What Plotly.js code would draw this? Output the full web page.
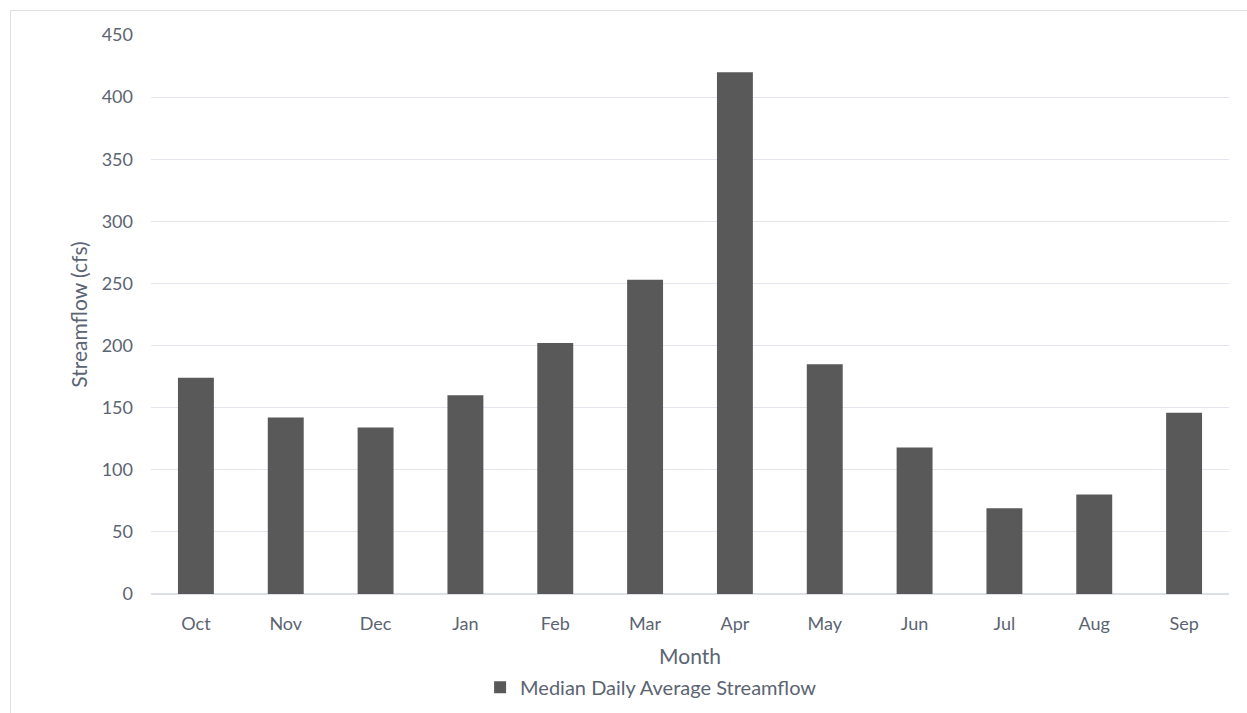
<!DOCTYPE html>
<html>
<head>
<meta charset="utf-8">
<script src="https://cdn.plot.ly/plotly-3.0.1.min.js"></script>
<style>
  html, body { margin: 0; padding: 0; background: #ffffff; overflow: hidden; }
  #chart { width: 1247px; height: 713px; }
  #frame { position: absolute; left: 10px; top: 10px; right: 0; bottom: 0;
           border-left: 1px solid #dde0e6; border-top: 1px solid #dde0e6; pointer-events: none; }
</style>
</head>
<body>
<div id="chart"></div>
<div id="frame"></div>
<script>
const months = ["Oct", "Nov", "Dec", "Jan", "Feb", "Mar", "Apr", "May", "Jun", "Jul", "Aug", "Sep"];
const medianFlow = [174, 142, 134, 160, 202, 253, 420, 185, 118, 69, 80, 146];
const yTicks = [0, 50, 100, 150, 200, 250, 300, 350, 400, 450];
const seriesName = "Median Daily Average Streamflow";

const textColor = "#5b6472";
const fontFamily = "Lato, 'Open Sans', sans-serif";

const trace = {
  type: "bar",
  x: months,
  y: medianFlow,
  name: seriesName,
  marker: { color: "#595959" },
  showlegend: true,
  hoverinfo: "x+y"
};

const layout = {
  width: 1247,
  height: 713,
  margin: { l: 151, r: 18, t: 34.5, b: 118.5 },
  paper_bgcolor: "#ffffff",
  plot_bgcolor: "#ffffff",
  bargap: 0.6,
  font: { family: fontFamily, color: textColor, size: 18 },
  showlegend: true,
  legend: {
    orientation: "h",
    xref: "container", yref: "container",
    x: 0.385, xanchor: "left",
    y: 0.036, yanchor: "middle",
    font: { size: 20, color: textColor },
    itemwidth: 30
  },
  xaxis: {
    type: "category",
    automargin: false,
    showgrid: false,
    showline: false,
    zeroline: false,
    ticks: "",
    ticklabelstandoff: 17,
    tickfont: { size: 18, color: textColor },
    title: { text: "Month", font: { size: 21, color: textColor }, standoff: 17 }
  },
  yaxis: {
    range: [0, 450],
    automargin: false,
    tickvals: yTicks,
    ticktext: yTicks.map(String),
    showgrid: true,
    gridcolor: "#e3e6ec",
    gridwidth: 1.2,
    zeroline: true,
    zerolinecolor: "#dcdfe5",
    zerolinewidth: 1.5,
    showline: false,
    ticks: "",
    ticklabelstandoff: 17,
    tickfont: { size: 18, color: textColor },
    title: { text: "Streamflow (cfs)", font: { size: 21, color: textColor }, standoff: 8 }
  }
};

Plotly.newPlot("chart", [trace], layout, { displayModeBar: false, staticPlot: true });
</script>
</body>
</html>
